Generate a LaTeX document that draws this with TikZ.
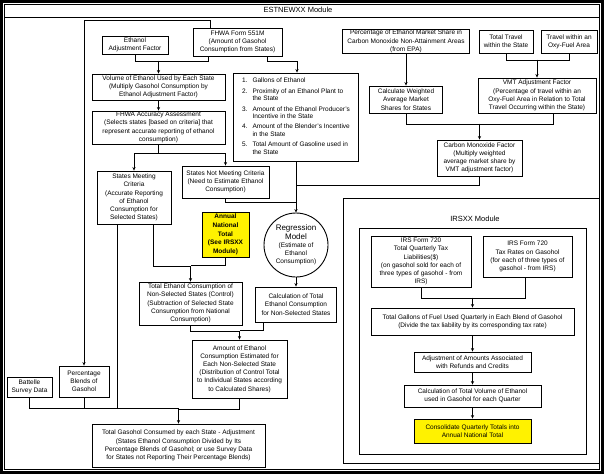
\documentclass[tikz,border=0pt]{standalone}
\usepackage{fontspec}
\setmainfont{Liberation Sans}
\usetikzlibrary{arrows.meta}
\newcommand{\regfont}{\fontsize{8}{9.5}\selectfont}

\begin{document}
\begin{tikzpicture}[x=1pt,y=-1pt,line width=0.9pt]
	\tikzstyle{procbox} = [draw, rectangle, align=center, inner sep=1pt, font=\fontsize{6.5}{8.2}\selectfont]
	\tikzstyle{yellowbox} = [procbox, fill=yellow, font=\fontsize{6.5}{8.6}\selectfont\bfseries]
	\tikzstyle{flow} = [-{Stealth[length=3.5pt,width=3.2pt]}]
	\useasboundingbox (0,0) rectangle (604,474);
	% frame and module boxes
	\draw[line width=3pt] (1.5,1.5) rectangle (602.5,472.5);
	\draw (4.5,4.5) rectangle (599.5,469.5);
	\draw (4.5,17) -- (599.5,17);
	\node (esttitle) at (298,10) {\fontsize{7.5}{9}\selectfont ESTNEWXX Module};
	\draw (343,198) rectangle (599.5,463);
	\draw (359,228) rectangle (586,454);
	\node (irstitle) at (475,219) {\fontsize{7.5}{9}\selectfont IRSXX Module};
	% ESTNEWXX boxes
	\node[procbox, minimum width=66, minimum height=18] (eaf) at (135,45) {Ethanol\\Adjustment Factor};
	\node[procbox, minimum width=89, minimum height=28] (fhwa) at (237.5,42) {FHWA Form 551M\\(Amount of Gasohol\\Consumption from States)};
	\node[procbox, minimum width=133, minimum height=26] (vol) at (158.5,87) {Volume of Ethanol Used by Each State\\(Multiply Gasohol Consumption by\\Ethanol Adjustment Factor)};
	\node[procbox, minimum width=133, minimum height=33] (acc) at (158.5,127.5) {FHWA Accuracy Assessment\\(Selects states [based on criteria] that\\represent accurate reporting of ethanol\\consumption)};
	\node[draw, rectangle, minimum width=125, minimum height=88, inner sep=2pt, font=\fontsize{6.5}{7.4}\selectfont] (list) at (296,117) {%
		\begin{tabular}{@{}l@{\hspace{5pt}}l@{}}
		1. & Gallons of Ethanol\\[3pt]
		2. & Proximity of an Ethanol Plant to\\
		   & the State\\[3pt]
		3. & Amount of the Ethanol Producer's\\
		   & Incentive in the State\\[3pt]
		4. & Amount of the Blender's Incentive\\
		   & in the State\\[3pt]
		5. & Total Amount of Gasoline used in\\
		   & the State
		\end{tabular}};
	\node[procbox, minimum width=74, minimum height=53] (sm) at (134,197.5) {States Meeting\\Criteria\\(Accurate Reporting\\of Ethanol\\Consumption for\\Selected States)};
	\node[procbox, minimum width=87, minimum height=32] (snm) at (225.5,182) {States Not Meeting Criteria\\(Need to Estimate Ethanol\\Consumption)};
	\node[yellowbox, minimum width=47, minimum height=45] (ant) at (225.5,234.5) {Annual\\National\\Total\\(See IRSXX\\Module)};
	\node[draw, circle, minimum size=64, inner sep=0pt, align=center, font=\fontsize{6.5}{8.2}\selectfont] (reg) at (296,245) {\regfont Regression\\\regfont Model\\(Estimate of\\Ethanol\\Consumption)};
	\node[procbox, minimum width=103, minimum height=43] (ctrl) at (190.5,303.5) {Total Ethanol Consumption of\\Non-Selected States (Control)\\(Subtraction of Selected State\\Consumption from National\\Consumption)};
	\node[procbox, minimum width=81, minimum height=35] (calc) at (296,304.5) {Calculation of Total\\Ethanol Consumption\\for Non-Selected States};
	\node[procbox, minimum width=95, minimum height=58] (amt) at (239.5,369) {Amount of Ethanol\\Consumption Estimated for\\Each Non-Selected State\\(Distribution of Control Total\\to Individual States according\\to Calculated Shares)};
	\node[procbox, minimum width=45, minimum height=20] (bat) at (29.5,387) {Battelle\\Survey Data};
	\node[procbox, minimum width=50, minimum height=31] (pb) at (84,381.5) {Percentage\\Blends of\\Gasohol};
	\node[procbox, minimum width=173, minimum height=43] (tg) at (178.5,445.5) {Total Gasohol Consumed by each State - Adjustment\\(States Ethanol Consumption Divided by Its\\Percentage Blends of Gasohol; or use Survey Data\\for States not Reporting Their Percentage Blends)};
	% carbon monoxide boxes
	\node[procbox, minimum width=127, minimum height=23] (pms) at (406,41.5) {Percentage of Ethanol Market Share in\\Carbon Monoxide Non-Attainment Areas\\(from EPA)};
	\node[procbox, minimum width=54, minimum height=23] (tt) at (506,41.5) {Total Travel\\within the State};
	\node[procbox, minimum width=56, minimum height=23] (oxy) at (569,41.5) {Travel within an\\Oxy-Fuel Area};
	\node[procbox, minimum width=73, minimum height=27] (cw) at (406,99.5) {Calculate Weighted\\Average Market\\Shares for States};
	\node[procbox, minimum width=118, minimum height=35] (vmt) at (537,95.5) {VMT Adjustment Factor\\(Percentage of travel within an\\Oxy-Fuel Area in Relation to Total\\Travel Occurring within the State)};
	\node[procbox, minimum width=85, minimum height=36] (co) at (479.5,158) {Carbon Monoxide Factor\\(Multiply weighted\\average market share by\\VMT adjustment factor)};
	% IRSXX boxes
	\node[procbox, minimum width=100, minimum height=51] (irs1) at (421,261.5) {IRS Form 720\\Total Quarterly Tax\\Liabilities(\$)\\(on gasohol sold for each of\\three types of gasohol - from\\IRS)};
	\node[procbox, minimum width=89, minimum height=41] (irs2) at (527.5,256.5) {IRS Form 720\\Tax Rates on Gasohol\\(for each of three types of\\gasohol - from IRS)};
	\node[procbox, minimum width=203, minimum height=27] (tgal) at (472.5,321.5) {Total Gallons of Fuel Used Quarterly in Each Blend of Gasohol\\(Divide the tax liability by its corresponding tax rate)};
	\node[procbox, minimum width=117, minimum height=20] (adj) at (472.5,362) {Adjustment of Amounts Associated\\with Refunds and Credits};
	\node[procbox, minimum width=137, minimum height=22] (cvol) at (472.5,396) {Calculation of Total Volume of Ethanol\\used in Gasohol for each Quarter};
	\node[yellowbox, minimum width=117, minimum height=24, font=\fontsize{6.5}{8.2}\selectfont] (cons) at (472.5,431) {Consolidate Quarterly Totals into\\Annual National Total};
	% connectors
	\draw[flow] ([xshift=-27.5pt]fhwa.north) -- ++(0,-7) -| (pb.north);
	\draw (eaf.south) -- ++(0,7) -| ([xshift=-29.5pt]fhwa.south);
	\draw[flow] (vol.north) ++(0,-13) -- (vol.north);
	\draw[flow] ([xshift=29.5pt]fhwa.south) -- ++(0,5) -| ([xshift=1pt]list.north);
	\draw[flow] (vol.south) -- (acc.north);
	\draw[flow] (acc.south) -- ++(0,8.5) -| (sm.north);
	\draw[flow] (acc.south) -- ++(0,8.5) -| (snm.north);
	\draw[flow] (list.south) -- (reg.north);
	\draw (snm.south) |- ([yshift=10pt]reg.north);
	\draw (co.south) |- ([yshift=27pt]reg.north);
	\draw[flow] ([xshift=19pt]sm.south) -- ++(0,42) -| (ctrl.north);
	\draw (ant.south) |- ([yshift=16pt]ctrl.north);
	\draw[flow] (reg.south) -- (calc.north);
	\draw[flow] (ctrl.south) -- ++(0,6) -| (amt.north);
	\draw ([xshift=-33pt]calc.south) |- ([yshift=9pt]amt.north);
	\draw[flow] (amt.south) -- ++(0,11) -| (tg.north);
	\draw (bat.south) |- ([yshift=15pt]tg.north);
	\draw (pb.south) -- ++(0,12);
	\draw ([xshift=-17pt]sm.south) -- ++(0,185);
	\draw[flow] (pms.south) -- (cw.north);
	\draw (tt.south) -- ++(0,7) -| (oxy.south);
	\draw[flow] (vmt.north) ++(0,-18) -- (vmt.north);
	\draw (cw.south) -- ++(0,11) -| ([xshift=16pt]vmt.south);
	\draw[flow] (co.north) ++(0,-16) -- (co.north);
	\draw (irs1.south) -- ++(0,11) -| ([xshift=-2.5pt]irs2.south);
	\draw[flow] (tgal.north) ++(0,-10) -- (tgal.north);
	\draw[flow] (tgal.south) -- (adj.north);
	\draw[flow] (adj.south) -- (cvol.north);
	\draw[flow] (cvol.south) -- (cons.north);
\end{tikzpicture}
\end{document}
